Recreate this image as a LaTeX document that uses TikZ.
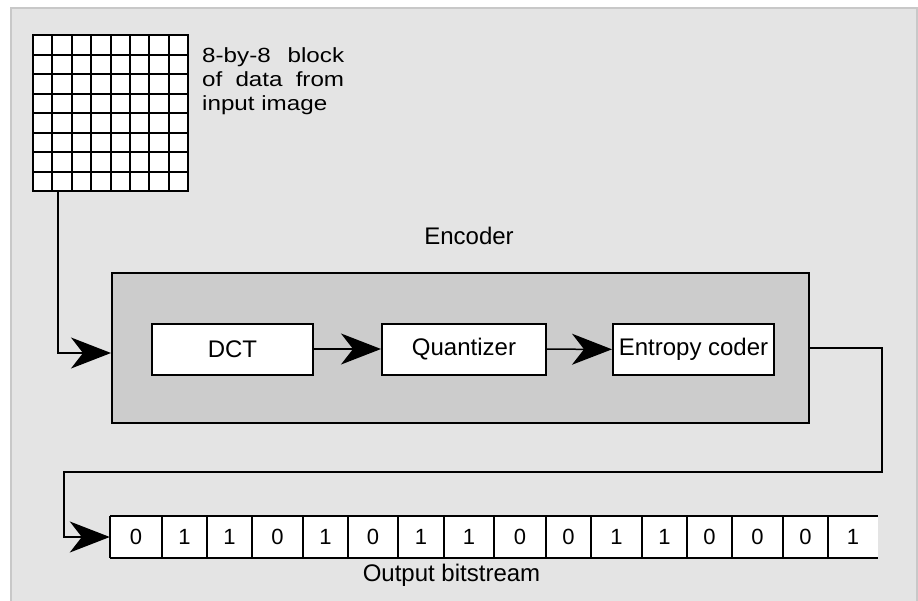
\documentclass[tikz,border=0pt]{standalone}
\usepackage{fontspec}
\setmainfont{Liberation Sans}
\usetikzlibrary{arrows.meta,calc}
\definecolor{panelfill}{HTML}{E4E4E4}
\definecolor{panelline}{HTML}{C8C8C8}
\definecolor{encfill}{HTML}{CCCCCC}
\begin{document}
\begin{tikzpicture}[x=1pt,y=-1pt,
  box/.style={draw, line width=2pt, fill=white, minimum width=161pt, minimum height=51pt, inner sep=0pt, font=\fontsize{24}{28}\selectfont},
  conn/.style={line width=1.5pt, -{Stealth[length=40pt,width=31pt,inset=12pt]}},
  cell/.style={fill=white, minimum height=42pt, inner sep=0pt, font=\fontsize{22}{26}\selectfont},
  lbl/.style={font=\fontsize{24}{28}\selectfont, inner sep=0pt},
  gridtext/.style={anchor=base west, inner sep=0pt, font=\fontsize{20.5}{24}\selectfont}]
\useasboundingbox (0,0) rectangle (918,600);
\fill[white] (0,0) rectangle (918,600);
\draw[fill=panelfill, draw=panelline, line width=1.5pt] (11,8) rectangle (917,612);

% 8x8 grid
\node[draw, line width=2pt, fill=white, minimum width=155pt, minimum height=156pt, inner sep=0pt] (grid) at (110.5,113) {};
\foreach \i in {1,...,7} {
  \draw[line width=2pt] ({33+\i*19.375},35) -- ({33+\i*19.375},191);
  \draw[line width=2pt] (33,{35+\i*19.5}) -- (188,{35+\i*19.5});
}
\node[gridtext] (t1) at (202,62) {\scalebox{1.18}[1]{\makebox[120.3pt][s]{8-by-8 block}}};
\node[gridtext] (t2) at (202,86) {\scalebox{1.18}[1]{\makebox[120.3pt][s]{of data from}}};
\node[gridtext] (t3) at (202,110) {\scalebox{1.18}[1]{input image}};

% encoder
\node[lbl, anchor=base] (enclbl) at (469,244) {Encoder};
\node[draw, line width=2pt, fill=encfill, minimum width=697pt, minimum height=150pt, inner sep=0pt] (enc) at (460.5,348) {};
\node[box] (dct) at (232.5,349) {DCT};
\node[box, minimum width=164pt] (quant) at (464,349) {Quantizer};
\node[box] (ent) at (693.5,349.5) {Entropy coder};
\draw[conn] (dct) -- (quant);
\draw[conn] (quant) -- (ent);
\draw[conn] ([xshift=26pt]grid.south west) |- ([yshift=-5pt]enc.west);

% bitstream
\foreach \l/\r/\d [count=\i] in {110/162/0, 162/207/1, 207/252/1, 252/303/0, 303/348/1, 348/398/0, 398/444/1, 444/494/1, 494/546/0, 546/591/0, 591/642/1, 642/687/1, 687/732/0, 732/783/0, 783/828/0, 828/878/1} {
  \node[cell, minimum width={(\r-\l)*1pt}] (b\i) at ({(\l+\r)/2},537) {\d};
}
\draw[line width=2pt] (b1.north west) -- (b16.north east);
\draw[line width=2pt] (b1.south west) -- (b16.south east);
\foreach \i in {2,...,16} {
  \draw[line width=2pt] (b\i.north west) -- (b\i.south west);
}
\draw[line width=2pt] (b1.north west) -- (b1.south west);
\node[lbl, anchor=base] (outlbl) at (451.5,581) {Output bitstream};

\draw[conn] (enc.east) -- ++(72,0) -- ++(0,124) -| ([xshift=-46pt]b1.west) -- (b1.west);
\end{tikzpicture}
\end{document}
